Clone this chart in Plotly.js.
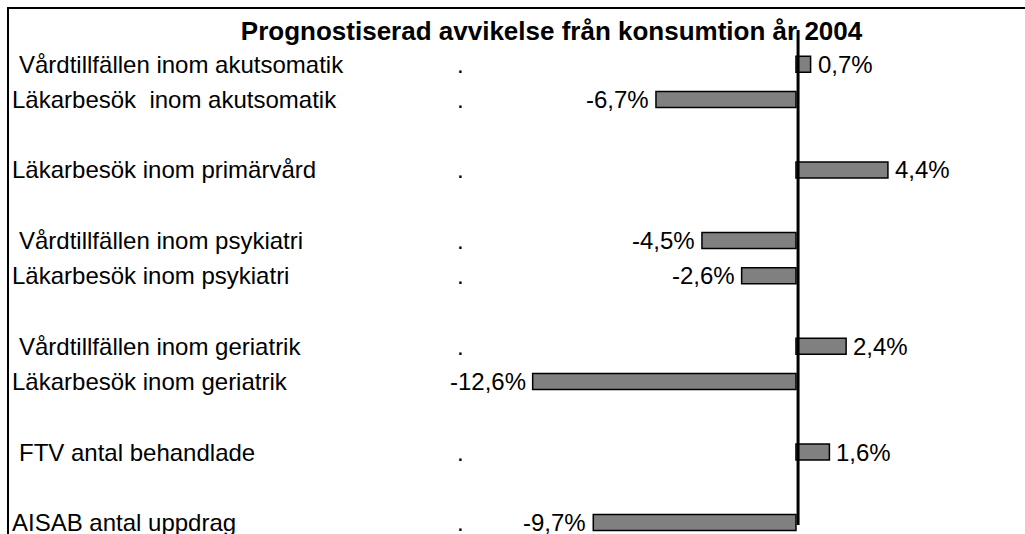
<!DOCTYPE html>
<html>
<head>
<meta charset="utf-8">
<script src="https://cdn.plot.ly/plotly-3.0.1.min.js"></script>
<style>html,body{margin:0;padding:0;background:#fff;}#chart{width:1025px;height:534px;}</style>
</head>
<body>
<div id="chart"></div>
<script>
// Row positions (0 = top); blank rows separate groups
const rows = [0, 1, 3, 5, 6, 8, 9, 11, 13];
const categories = [
  "Vårdtillfällen inom akutsomatik",
  "Läkarbesök  inom akutsomatik",
  "Läkarbesök inom primärvård",
  "Vårdtillfällen inom psykiatri",
  "Läkarbesök inom psykiatri",
  "Vårdtillfällen inom geriatrik",
  "Läkarbesök inom geriatrik",
  "FTV antal behandlade",
  "AISAB antal uppdrag"
];
const values = [0.7, -6.7, 4.4, -4.5, -2.6, 2.4, -12.6, 1.6, -9.7];
const valueLabels = ["0,7%", "-6,7%", "4,4%", "-4,5%", "-2,6%", "2,4%", "-12,6%", "1,6%", "-9,7%"];
const labelIndent = [1, 0, 0, 1, 0, 1, 0, 1, 0];
const showDot = [1, 1, 1, 1, 1, 1, 0, 1, 1];
const title = "Prognostiserad avvikelse från konsumtion år 2004";

const FONT = "Liberation Sans, Arial, sans-serif";
const FS = 24;

const trace = {
  type: "bar",
  orientation: "h",
  x: values,
  y: rows,
  width: 0.45,
  marker: {color: "#808080", line: {color: "#000000", width: 1.5}},
  cliponaxis: false,
  hoverinfo: "none"
};

const annotations = [];
categories.forEach((c, i) => {
  annotations.push({
    xref: "paper", yref: "y", x: labelIndent[i] ? 0.0075 : 0.001, y: rows[i],
    xanchor: "left", yanchor: "middle", showarrow: false,
    text: c, font: {family: FONT, size: FS, color: "#000"}
  });
  if (showDot[i]) {
    annotations.push({
      xref: "paper", yref: "y", x: 0.439, y: rows[i],
      xanchor: "left", yanchor: "middle", showarrow: false,
      text: ".", font: {family: FONT, size: FS, color: "#000"}
    });
  }
  const pos = values[i] >= 0;
  annotations.push({
    xref: "x", yref: "y", x: values[i], y: rows[i],
    xanchor: pos ? "left" : "right", yanchor: "middle",
    xshift: pos ? 5 : -5, showarrow: false,
    text: valueLabels[i], font: {family: FONT, size: FS, color: "#000"}
  });
});

const layout = {
  width: 1025, height: 534,
  margin: {l: 9, r: 0, t: 9, b: 0},
  paper_bgcolor: "#fff", plot_bgcolor: "#fff",
  showlegend: false,
  title: {
    text: "<b>" + title + "</b>",
    font: {family: FONT, size: 26, color: "#000"},
    x: 0.534, xanchor: "center", xref: "paper",
    y: 1 - 31 / 534, yanchor: "middle", yref: "container"
  },
  xaxis: {
    range: [-37.66, 10.96], showgrid: false, zeroline: false,
    showticklabels: false, ticks: "", showline: true, side: "top",
    linecolor: "#000", linewidth: 2, fixedrange: true
  },
  yaxis: {
    range: [13.326, -1.567], showgrid: false, zeroline: false,
    showticklabels: false, ticks: "", showline: true,
    linecolor: "#000", linewidth: 2, fixedrange: true
  },
  shapes: [{
    type: "line", xref: "x", yref: "paper",
    x0: 0.1, x1: 0.1, y0: (534 - 525) / 525, y1: (534 - 30) / 525,
    line: {color: "#000", width: 3}
  }],
  annotations: annotations
};

Plotly.newPlot("chart", [trace], layout, {staticPlot: true, displayModeBar: false});
</script>
</body>
</html>
